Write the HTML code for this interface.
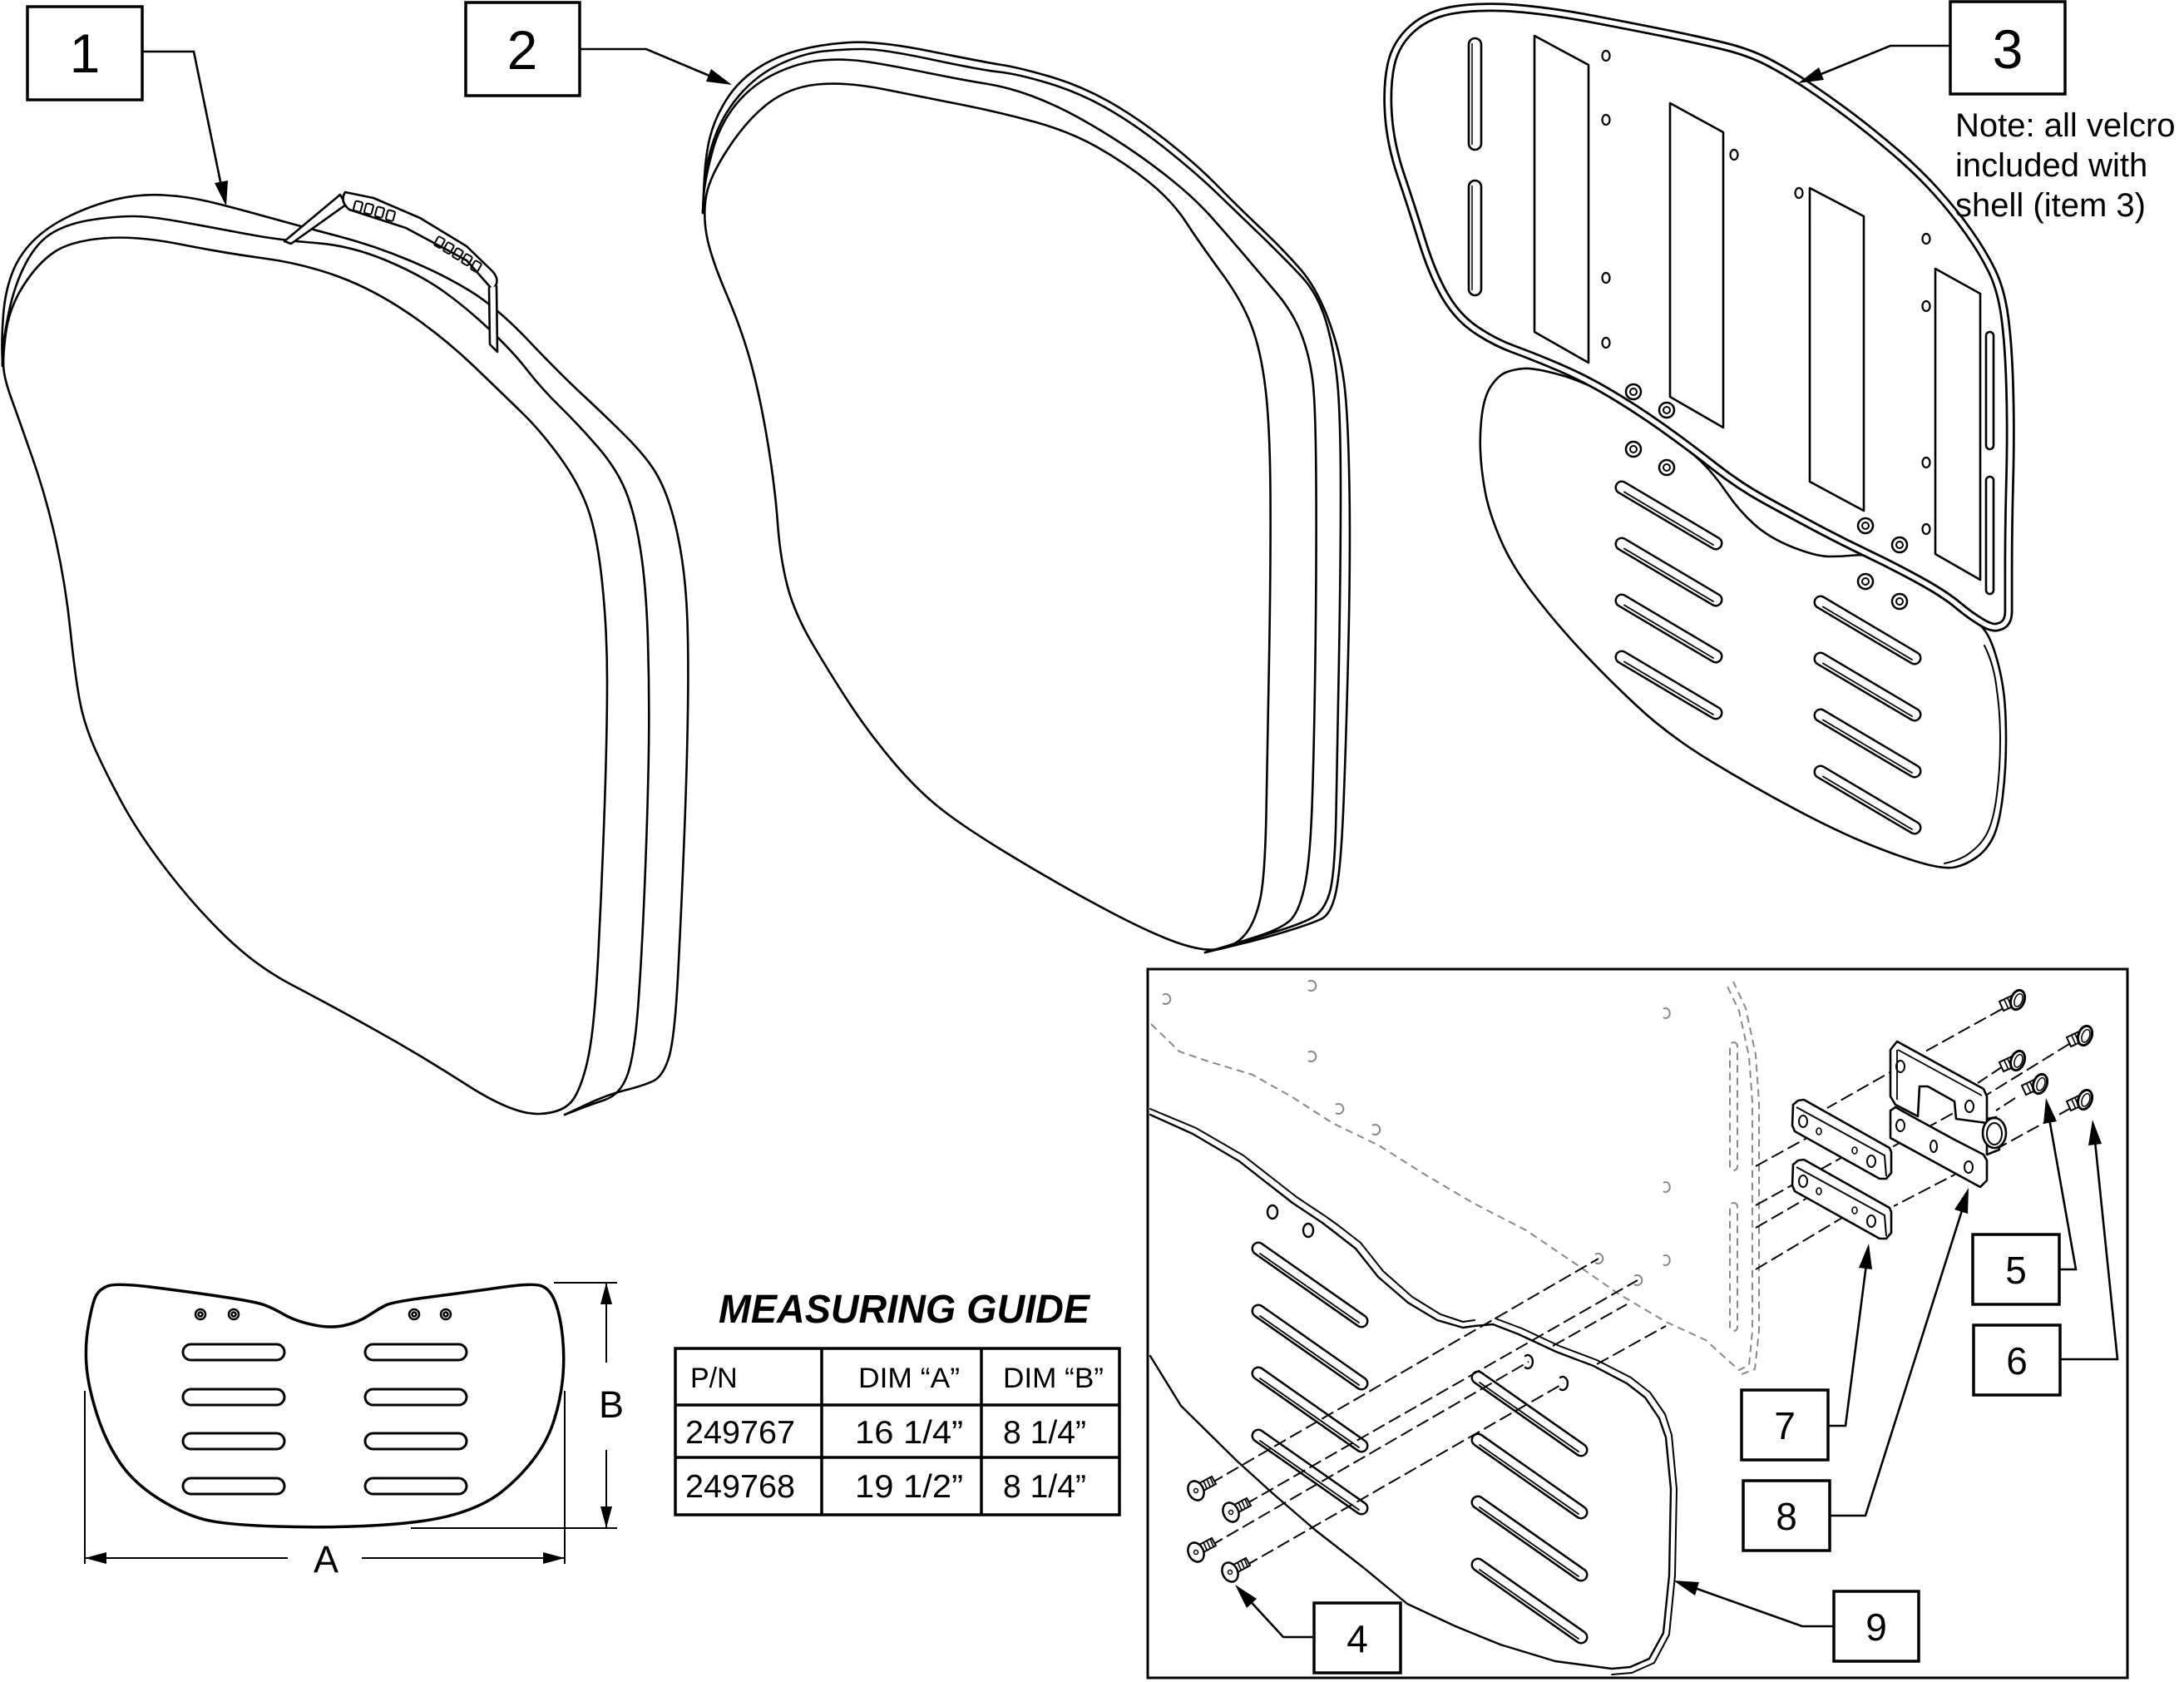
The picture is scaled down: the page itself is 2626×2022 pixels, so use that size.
<!DOCTYPE html>
<html><head><meta charset="utf-8"><title>Seat parts</title>
<style>
html,body{margin:0;padding:0;background:#fff;width:2626px;height:2022px;overflow:hidden}
svg{display:block}
</style></head><body>
<svg xmlns="http://www.w3.org/2000/svg" xmlns:xlink="http://www.w3.org/1999/xlink" width="2626" height="2022" viewBox="0 0 2626 2022" font-family="Liberation Sans, Arial, sans-serif">
<defs>
 <g id="s3">
  <line x1="0" y1="0" x2="113" y2="67" stroke="#000" stroke-width="17" stroke-linecap="round"/>
  <line x1="0" y1="0" x2="113" y2="67" stroke="#fff" stroke-width="12" stroke-linecap="round"/>
  <line x1="3" y1="5.5" x2="110" y2="69" stroke="#000" stroke-width="1.8" stroke-linecap="round"/>
 </g>
 <g id="s9">
  <line x1="0" y1="0" x2="124" y2="87" stroke="#000" stroke-width="17" stroke-linecap="round"/>
  <line x1="0" y1="0" x2="124" y2="87" stroke="#fff" stroke-width="12" stroke-linecap="round"/>
  <line x1="2" y1="6" x2="121" y2="89" stroke="#000" stroke-width="1.8" stroke-linecap="round"/>
 </g>
 <g id="sc4">
  <polygon points="4,-9 19,-17 24,-8 9,0" fill="#fff" stroke="#000" stroke-width="2"/>
  <line x1="9" y1="-12" x2="13" y2="-3" stroke="#000" stroke-width="1.6"/>
  <line x1="13" y1="-14" x2="17" y2="-5" stroke="#000" stroke-width="1.6"/>
  <line x1="17" y1="-16" x2="21" y2="-7" stroke="#000" stroke-width="1.6"/>
  <ellipse cx="0" cy="0" rx="9" ry="12" transform="rotate(-25)" fill="#fff" stroke="#000" stroke-width="2.5"/>
  <circle r="2.5" fill="none" stroke="#000" stroke-width="1.5"/>
 </g>
 <g id="sc5">
  <polygon points="-3,-7 -22,2 -17,13 1,5" fill="#fff" stroke="#000" stroke-width="2"/>
  <line x1="-8" y1="-4" x2="-3" y2="7" stroke="#000" stroke-width="1.6"/>
  <line x1="-12" y1="-2" x2="-7" y2="9" stroke="#000" stroke-width="1.6"/>
  <line x1="-16" y1="0" x2="-11" y2="11" stroke="#000" stroke-width="1.6"/>
  <ellipse cx="0" cy="0" rx="8" ry="12" transform="rotate(20)" fill="#fff" stroke="#000" stroke-width="3"/>
  <ellipse cx="1" cy="0" rx="4.5" ry="8" transform="rotate(20)" fill="none" stroke="#000" stroke-width="1.5"/>
 </g>
 <g id="cs">
  <circle r="9" fill="#fff" stroke="#000" stroke-width="2.5"/>
  <circle r="4" fill="none" stroke="#000" stroke-width="2"/>
 </g>
 <path id="shell" d="M1698.5,34 Q1719,16 1751,11.5 Q1783,7 1823,10 Q1863,13 1915.5,23 Q1968,33 2005,40.5 Q2042,48 2073,55.5 Q2104,63 2128.5,76 Q2153,89 2177.5,105.5 Q2202,122 2226.5,140.5 Q2251,159 2279,183 Q2307,207 2328.5,231 Q2350,255 2367,279 Q2384,303 2395,325.5 Q2406,348 2410.5,381 Q2415,414 2416.5,466 Q2418,518 2416.5,577 Q2415,636 2415,684 L2415,735 Q2415,751 2402.5,753.5 Q2396,756 2382.5,748 Q2369,740 2353.5,727 Q2338,714 2307,697 Q2276,680 2245.5,665.5 Q2215,651 2184,634.5 Q2153,618 2122,601 Q2091,584 2060.5,560 Q2030,536 1999,514 Q1968,492 1937,473.5 Q1906,455 1875.5,442 Q1845,429 1820.5,420 Q1796,411 1774,396 Q1752,381 1737,355 Q1722,329 1709.5,288.5 Q1697,248 1684.5,211 Q1672,174 1669.5,139 Q1667,104 1672.5,78 Q1678,52 1698.5,34 Z"/>
</defs>

<rect width="2626" height="2022" fill="#fff"/>

<!-- ================= ITEM 1 CUSHION ================= -->
<g fill="none" stroke="#000" stroke-width="2.6" stroke-linejoin="round" stroke-linecap="round">
 <path d="M3,440 L2.5,422.5 Q2,405 4,378.5 Q6,352 14,330 Q22,308 39,290.5 Q56,273 84,259.5 Q112,246 140,239.5 Q168,233 196,234.5 Q224,236 249.5,242 Q275,248 320,260.5 Q365,273 407,284 Q449,295 491,312.5 Q533,330 565.5,350 Q598,370 635.5,409.5 Q673,449 701.5,475.5 Q730,502 752,524 Q774,546 785.5,563.5 Q797,581 805.5,607.5 Q814,634 819.5,669 Q825,704 826.5,748 Q828,792 827,858 Q826,924 822.5,1012 Q819,1100 815,1175 Q811,1250 804,1272 Q797,1294 785.5,1299.5 Q774,1305 752,1310.5 Q730,1316 704.5,1328 L679,1340"/>
 <path d="M3,440 L3,427 Q3,414 10,378.5 Q17,343 31,316.5 Q45,290 64.5,279 Q84,268 112,264 Q140,260 160,260 Q180,260 216.5,266.5 Q253,273 295,281 Q337,289 379,292 Q421,295 463,312.5 Q505,330 533,350 Q561,370 589,396.5 Q617,423 634,445 Q651,467 673.5,489 Q696,511 718.5,537 Q741,563 752,589.5 Q763,616 770,660 Q777,704 779,770 Q781,836 780,902 Q779,968 775.5,1056 Q772,1144 767.5,1206 Q763,1268 754.5,1292 Q746,1316 726.5,1322.5 Q707,1329 693,1334.5 L679,1340"/>
 <path d="M4.5,444.5 Q3,431 7,400.5 Q11,370 28,343.5 Q45,317 64.5,303.5 Q84,290 123.5,286.5 Q163,283 216,293.5 Q269,304 317,310.5 Q365,317 407,332.5 Q449,348 491,376.5 Q533,405 569.5,440 Q606,475 628.5,497 Q651,519 673.5,550 Q696,581 707,612 Q718,643 724,700 Q730,757 730,818.5 Q730,880 727,968 Q724,1056 719.5,1144 Q715,1232 708,1267.5 Q701,1303 690,1320.5 Q679,1338 648,1339 Q617,1340 561,1304 Q505,1268 449,1237 Q393,1206 351,1184 Q309,1162 272.5,1127 Q236,1092 202,1048 Q168,1004 148.5,968.5 Q129,933 115,902 Q101,871 95.5,840.5 Q90,810 84.5,757 Q79,704 67.5,651.5 Q56,599 39,550.5 Q22,502 14,480 Q6,458 4.5,444.5 Z"/>
 <!-- strap -->
 <polygon points="342,290 409,234 416,246 350,293" fill="#fff"/>
 <path d="M415,231 L449,238 L505,262 L561,296 L592,326 Q603,338 592,348 L561,313 L488,274 L420,252 Q408,242 415,231 Z" fill="#fff"/>
 <g stroke-width="2">
  <rect x="426" y="242" width="9" height="12" rx="2" transform="rotate(15 430 248)"/>
  <rect x="439" y="245" width="9" height="12" rx="2" transform="rotate(15 443 251)"/>
  <rect x="452" y="249" width="9" height="12" rx="2" transform="rotate(15 456 255)"/>
  <rect x="465" y="253" width="9" height="12" rx="2" transform="rotate(15 469 259)"/>
  <rect x="524" y="285" width="9" height="12" rx="2" transform="rotate(30 528 291)"/>
  <rect x="535" y="292" width="9" height="12" rx="2" transform="rotate(30 539 298)"/>
  <rect x="546" y="299" width="9" height="12" rx="2" transform="rotate(30 550 305)"/>
  <rect x="557" y="306" width="9" height="12" rx="2" transform="rotate(30 561 312)"/>
  <rect x="568" y="314" width="9" height="12" rx="2" transform="rotate(30 572 320)"/>
 </g>
 <path d="M588,346 L589,414 L598,423 L597,344" fill="#fff"/>
</g>

<!-- ================= ITEM 2 CUSHION ================= -->
<g fill="none" stroke="#000" stroke-width="2.6" stroke-linejoin="round" stroke-linecap="round">
 <path d="M845,256 L846.5,222 Q848,188 853.5,165.5 Q859,143 873,120.5 Q887,98 909.5,83 Q932,68 960,60.5 Q988,53 1022,51 Q1056,49 1120.5,62 Q1185,75 1204.5,78 Q1224,81 1260.5,91.5 Q1297,102 1330.5,120.5 Q1364,139 1400.5,167.5 Q1437,196 1462.5,222 Q1488,248 1516,274.5 Q1544,301 1563.5,323.5 Q1583,346 1597,383.5 Q1611,421 1616,459 Q1621,497 1622.5,587 Q1624,677 1620.5,809 Q1617,941 1614,997 Q1611,1053 1605.5,1076 Q1600,1099 1589,1104.5 Q1578,1110 1547,1119.5 Q1516,1129 1482.5,1137 L1449,1145"/>
 <path d="M845,256 L846.5,227.5 Q848,199 858,169 Q868,139 889,114.5 Q910,90 938,77 Q966,64 991,61.5 Q1016,59 1038.5,59 Q1061,59 1120,71.5 Q1179,84 1201.5,86.5 Q1224,89 1260.5,100 Q1297,111 1330.5,130 Q1364,149 1400.5,178 Q1437,207 1462.5,231.5 Q1488,256 1516,283 Q1544,310 1565,332.5 Q1586,355 1596,392 Q1606,429 1609,470.5 Q1612,512 1612,594.5 Q1612,677 1610,790 Q1608,903 1606.5,978 Q1605,1053 1598.5,1074 Q1592,1095 1579,1102.5 Q1566,1110 1535.5,1119.5 Q1505,1129 1477,1137 L1449,1145"/>
 <path d="M845,256 L846,237 Q847,218 856,184 Q865,150 884.5,126 Q904,102 932,88.5 Q960,75 988,72.5 Q1016,70 1044.5,74.5 Q1073,79 1115,87.5 Q1157,96 1185,100.5 Q1213,105 1241,115.5 Q1269,126 1297,141.5 Q1325,157 1353,175.5 Q1381,194 1409,216.5 Q1437,239 1457,261.5 Q1477,284 1496.5,307 Q1516,330 1535.5,353 Q1555,376 1565,402.5 Q1575,429 1578.5,459 Q1582,489 1582.5,583 Q1583,677 1581.5,790 Q1580,903 1577.5,970.5 Q1575,1038 1568,1068.5 Q1561,1099 1549.5,1108 Q1538,1117 1515.5,1124.5 Q1493,1132 1471,1138.5 L1449,1145"/>
 <path d="M849.5,282 Q845,256 849.5,233.5 Q854,211 876.5,177 Q899,143 924,124 Q949,105 982.5,101.5 Q1016,98 1064,107.5 Q1112,117 1157,126 Q1202,135 1244,146.5 Q1286,158 1319.5,177 Q1353,196 1381,218.5 Q1409,241 1426,267 Q1443,293 1468,327 Q1493,361 1504.5,391 Q1516,421 1521.5,466.5 Q1527,512 1527.5,594.5 Q1528,677 1526,790 Q1524,903 1522.5,978 Q1521,1053 1515.5,1079.5 Q1510,1106 1499,1121 Q1488,1136 1468.5,1140.5 Q1449,1145 1415,1133 Q1381,1121 1325,1091 Q1269,1061 1213,1027 Q1157,993 1129,970.5 Q1101,948 1072.5,914 Q1044,880 1022,846.5 Q1000,813 977.5,775 Q955,737 946.5,703.5 Q938,670 935,628.5 Q932,587 923.5,534.5 Q915,482 904,440.5 Q893,399 873.5,353.5 Q854,308 849.5,282 Z"/>
</g>

<!-- ================= ITEM 3 SHELL ================= -->
<g stroke="#000" stroke-width="2.6" stroke-linejoin="round" stroke-linecap="round">
 <path fill="#fff" d="M1793.5,463 Q1802,451 1811,447.5 Q1820,444 1832.5,443 Q1845,442 1875.5,450.5 Q1906,459 1937,477.5 Q1968,496 1999,518 Q2030,540 2045.5,555 Q2061,570 2076,592 Q2091,614 2109.5,630.5 Q2128,647 2156,658 Q2184,669 2199.5,669 Q2215,669 2230,667.5 Q2245,666 2260.5,671.5 Q2276,677 2307,695.5 Q2338,714 2348,723 Q2358,732 2368.5,740 Q2379,748 2386.5,758 Q2394,768 2400.5,790.5 Q2407,813 2409.5,835 Q2412,857 2412,890.5 Q2412,924 2408,957.5 Q2404,991 2396.5,1006.5 Q2389,1022 2376,1031 Q2363,1040 2350.5,1042.5 Q2338,1045 2312.5,1038 Q2287,1031 2248.5,1015.5 Q2210,1000 2159,973 Q2108,946 2057,915 Q2006,884 1968,848.5 Q1930,813 1899,779.5 Q1868,746 1842.5,712.5 Q1817,679 1803.5,647 Q1790,615 1785.5,590 Q1781,565 1780,542.5 Q1779,520 1782,497.5 Q1785,475 1793.5,463 Z"/>
 <path fill="none" stroke-width="2" d="M2386,776 Q2398,800 2401,830 Q2405,857 2405,890 Q2405,924 2401,955 Q2397,988 2388,1004 Q2381,1016 2370,1024 Q2360,1033 2338,1038"/>
</g>
<use xlink:href="#s3" transform="translate(1950,586)"/>
<use xlink:href="#s3" transform="translate(1950,654)"/>
<use xlink:href="#s3" transform="translate(1950,722)"/>
<use xlink:href="#s3" transform="translate(1950,790)"/>
<use xlink:href="#s3" transform="translate(2189,724)"/>
<use xlink:href="#s3" transform="translate(2189,792)"/>
<use xlink:href="#s3" transform="translate(2189,860)"/>
<use xlink:href="#s3" transform="translate(2189,928)"/>
<use xlink:href="#cs" x="1964" y="540"/>
<use xlink:href="#cs" x="2004" y="562"/>
<use xlink:href="#cs" x="2243" y="699"/>
<use xlink:href="#cs" x="2284" y="723"/>

<use xlink:href="#shell" fill="#fff" stroke="#000" stroke-width="11" stroke-linejoin="round"/>
<use xlink:href="#shell" fill="none" stroke="#fff" stroke-width="5.5" stroke-linejoin="round"/>

<g fill="none" stroke="#000" stroke-width="2.6" stroke-linejoin="round">
 <polygon points="1845,43 1910,78 1910,436 1845,399"/>
 <polygon points="2008,124 2072,159 2072,514 2008,477"/>
 <polygon points="2176,226 2241,260 2241,614 2176,579"/>
 <polygon points="2327,323 2381,353 2381,697 2327,666"/>
 <rect x="1766" y="46" width="15" height="134" rx="7.5"/>
 <rect x="1766" y="217" width="15" height="138" rx="7.5"/>
 <line x1="1770" y1="52" x2="1770" y2="174" stroke-width="1.5"/>
 <line x1="1770" y1="223" x2="1770" y2="349" stroke-width="1.5"/>
 <rect x="2388" y="399" width="9" height="141" rx="4.5"/>
 <rect x="2388" y="573" width="9" height="141" rx="4.5"/>
 <g stroke-width="2.2">
  <ellipse cx="1931" cy="67" rx="4.5" ry="6"/>
  <ellipse cx="1931" cy="144" rx="4.5" ry="6"/>
  <ellipse cx="1931" cy="334" rx="4.5" ry="6"/>
  <ellipse cx="1931" cy="412" rx="4.5" ry="6"/>
  <ellipse cx="2085" cy="186" rx="4.5" ry="6"/>
  <ellipse cx="2163" cy="232" rx="4.5" ry="6"/>
  <ellipse cx="2316" cy="287" rx="4.5" ry="6"/>
  <ellipse cx="2316" cy="368" rx="4.5" ry="6"/>
  <ellipse cx="2316" cy="556" rx="4.5" ry="6"/>
  <ellipse cx="2316" cy="636" rx="4.5" ry="6"/>
 </g>
</g>
<use xlink:href="#cs" x="1964" y="471"/>
<use xlink:href="#cs" x="2004" y="493"/>
<use xlink:href="#cs" x="2243" y="632"/>
<use xlink:href="#cs" x="2284" y="655"/>

<!-- ================= LEADERS TOP ================= -->
<g fill="none" stroke="#000" stroke-width="2.6">
 <polyline points="171,62 233,62 268,233"/>
 <polyline points="697,59 777,59 860,94"/>
 <polyline points="2345,55 2273,55 2180,93"/>
</g>
<polygon points="272,248 258,220 274,217" fill="#000"/>
<polygon points="880,102 849,98 855,83" fill="#000"/>
<polygon points="2162,100 2187,81 2193,96" fill="#000"/>

<g fill="#fff" stroke="#000" stroke-width="3.5">
 <rect x="33" y="8" width="138" height="112"/>
 <rect x="560" y="3" width="137" height="112"/>
 <rect x="2345" y="2" width="138" height="111"/>
</g>
<g font-size="66" text-anchor="middle" fill="#000">
 <text x="102" y="87">1</text>
 <text x="628" y="83">2</text>
 <text x="2414" y="82">3</text>
</g>
<g font-size="40" fill="#000">
 <text x="2351" y="164">Note: all velcro</text>
 <text x="2351" y="212">included with</text>
 <text x="2351" y="260">shell (item 3)</text>
</g>

<!-- ================= MEASURING GUIDE ================= -->
<g fill="none" stroke="#000" stroke-linejoin="round">
 <path stroke-width="3.5" d="M129.5,1546 Q140,1542 184,1547.5 Q228,1553 268,1559 Q308,1565 318.5,1569 Q329,1573 342,1580.5 Q355,1588 376,1592.5 Q397,1597 413.5,1593.5 Q430,1590 443,1581.5 Q456,1573 464,1569 Q472,1565 518.5,1559 Q565,1553 603,1547.5 Q641,1542 651.5,1546 Q662,1550 668,1566.5 Q674,1583 676.5,1608 Q679,1633 676.5,1658 Q674,1683 666,1708 Q658,1733 641,1755 Q624,1777 603,1793.5 Q582,1810 548.5,1820 Q515,1830 456,1833.5 Q397,1837 333.5,1835 Q270,1833 245,1826.5 Q220,1820 190.5,1801.5 Q161,1783 144,1758 Q127,1733 116.5,1700 Q106,1667 104,1642 Q102,1617 106.5,1592 Q111,1567 115,1558.5 Q119,1550 129.5,1546 Z"/>
 <g stroke-width="2.5">
  <circle cx="241" cy="1580" r="6"/><circle cx="241" cy="1580" r="2.5"/>
  <circle cx="281" cy="1580" r="6"/><circle cx="281" cy="1580" r="2.5"/>
  <circle cx="498" cy="1580" r="6"/><circle cx="498" cy="1580" r="2.5"/>
  <circle cx="536" cy="1580" r="6"/><circle cx="536" cy="1580" r="2.5"/>
 </g>
 <g stroke-width="3">
  <rect x="220" y="1616" width="122" height="19" rx="9.5"/>
  <rect x="439" y="1616" width="122" height="19" rx="9.5"/>
  <rect x="220" y="1670" width="122" height="19" rx="9.5"/>
  <rect x="439" y="1670" width="122" height="19" rx="9.5"/>
  <rect x="220" y="1723" width="122" height="19" rx="9.5"/>
  <rect x="439" y="1723" width="122" height="19" rx="9.5"/>
  <rect x="220" y="1777" width="122" height="19" rx="9.5"/>
  <rect x="439" y="1777" width="122" height="19" rx="9.5"/>
 </g>
 <g stroke-width="2">
  <line x1="102" y1="1672" x2="102" y2="1880"/>
  <line x1="679" y1="1672" x2="679" y2="1880"/>
  <line x1="102" y1="1873" x2="346" y2="1873"/>
  <line x1="435" y1="1873" x2="679" y2="1873"/>
  <line x1="666" y1="1542" x2="742" y2="1542"/>
  <line x1="494" y1="1837" x2="742" y2="1837"/>
  <line x1="729" y1="1542" x2="729" y2="1638"/>
  <line x1="729" y1="1743" x2="729" y2="1837"/>
 </g>
</g>
<g fill="#000">
 <polygon points="102,1873 128,1866 128,1880"/>
 <polygon points="679,1873 653,1866 653,1880"/>
 <polygon points="729,1542 722,1568 736,1568"/>
 <polygon points="729,1837 722,1811 736,1811"/>
 <text x="392" y="1890" font-size="45" text-anchor="middle">A</text>
 <text x="735" y="1704" font-size="45" text-anchor="middle">B</text>
 <text x="864" y="1590" font-size="48" font-weight="bold" font-style="italic" textLength="446" lengthAdjust="spacingAndGlyphs">MEASURING GUIDE</text>
</g>
<g fill="none" stroke="#000" stroke-width="3.5">
 <rect x="812" y="1621" width="534" height="200"/>
 <line x1="988" y1="1621" x2="988" y2="1821"/>
 <line x1="1180" y1="1621" x2="1180" y2="1821"/>
 <line x1="812" y1="1689" x2="1346" y2="1689"/>
 <line x1="812" y1="1752" x2="1346" y2="1752"/>
</g>
<g fill="#000">
 <text x="830" y="1668" font-size="34">P/N</text>
 <text x="1032" y="1668" font-size="34" textLength="122" lengthAdjust="spacingAndGlyphs">DIM “A”</text>
 <text x="1206" y="1668" font-size="34" textLength="121" lengthAdjust="spacingAndGlyphs">DIM “B”</text>
 <text x="824" y="1735" font-size="39" textLength="132" lengthAdjust="spacingAndGlyphs">249767</text>
 <text x="1028" y="1735" font-size="39" textLength="130" lengthAdjust="spacingAndGlyphs">16 1/4”</text>
 <text x="1206" y="1735" font-size="39" textLength="100" lengthAdjust="spacingAndGlyphs">8 1/4”</text>
 <text x="824" y="1800" font-size="39" textLength="132" lengthAdjust="spacingAndGlyphs">249768</text>
 <text x="1028" y="1800" font-size="39" textLength="130" lengthAdjust="spacingAndGlyphs">19 1/2”</text>
 <text x="1206" y="1800" font-size="39" textLength="100" lengthAdjust="spacingAndGlyphs">8 1/4”</text>
</g>

<!-- ================= INSET ================= -->
<rect x="1380" y="1165" width="1178" height="852" fill="#fff" stroke="#000" stroke-width="3"/>

<!-- ghost shell -->
<g fill="none" stroke="#888" stroke-width="2" stroke-dasharray="9 6" stroke-linejoin="round">
 <polyline points="1384,1231 1418,1264 1450,1275 1506,1292 1554,1319 1602,1350 1658,1377 1715,1413 1771,1446 1835,1479 1891,1517 1947,1556 2003,1589 2051,1611 2075,1633 2091,1647 2103,1641 2107,1600 2107,1325 2103,1270 2091,1215 2075,1182"/>
 <polyline points="2094,1652 2110,1646 2115,1600 2115,1325 2111,1268 2099,1212 2084,1180"/>
 <rect x="2080" y="1253" width="9" height="154" rx="4.5"/>
 <rect x="2080" y="1446" width="9" height="154" rx="4.5"/>
</g>
<g fill="none" stroke="#888" stroke-width="2">
 <path d="M1398,1196 a6,6 0 1 1 0,10"/>
 <path d="M1573,1180 a6,6 0 1 1 0,10"/>
 <path d="M1573,1265 a6,6 0 1 1 0,10"/>
 <path d="M1606,1328 a6,6 0 1 1 0,10"/>
 <path d="M1650,1353 a6,6 0 1 1 0,10"/>
 <path d="M2000,1213 a5,6 0 1 1 0,10"/>
 <path d="M2000,1422 a5,6 0 1 1 0,10"/>
 <path d="M2000,1510 a5,6 0 1 1 0,10"/>
 <path d="M1918,1508 a6,6 0 1 1 0,10"/>
 <path d="M1965,1534 a6,6 0 1 1 0,10"/>
</g>

<!-- seat plate 9 -->
<g fill="none" stroke="#000" stroke-width="2.4" stroke-linejoin="round" stroke-linecap="round">
 <polyline points="1383,1340 1434,1363 1490,1396 1554,1446 1590,1470 1603,1480 1630,1501 1657,1535 1693,1566 1728,1587 1759,1596 1773,1594 1795,1592 1826,1604 1871,1625 1916,1642 1956,1663 1978,1680 1995,1705 2003,1728 2009,1790 2007,1894 2000,1963 1983,1994 1960,2004 1938,2006 1870,1997 1804,1977 1750,1955 1692,1928 1640,1885 1581,1839 1530,1795 1487,1756 1420,1690 1383,1630"/>
 <polyline stroke-width="2" points="1383,1333 1438,1356 1495,1389 1559,1439 1595,1463 1609,1473 1636,1494 1663,1528 1698,1559 1732,1580 1759,1589 1773,1587"/>
 <polyline stroke-width="2" points="1798,1585 1830,1597 1875,1618 1920,1635 1961,1656 1984,1674 2002,1700 2010,1725 2016,1790 2014,1894 2007,1965 1989,1999 1962,2011 1938,2013"/>
 <ellipse cx="1530" cy="1457" rx="6" ry="8"/>
 <ellipse cx="1573" cy="1479" rx="6" ry="8"/>
 <path d="M1834,1630 a6,8 0 1 1 0,14"/>
 <path d="M1876,1656 a6,8 0 1 1 0,14"/>
</g>
<use xlink:href="#s9" transform="translate(1513,1501)"/>
<use xlink:href="#s9" transform="translate(1513,1576)"/>
<use xlink:href="#s9" transform="translate(1513,1651)"/>
<use xlink:href="#s9" transform="translate(1513,1726)"/>
<use xlink:href="#s9" transform="translate(1777,1656)"/>
<use xlink:href="#s9" transform="translate(1777,1731)"/>
<use xlink:href="#s9" transform="translate(1777,1806)"/>
<use xlink:href="#s9" transform="translate(1777,1881)"/>

<!-- dashed assembly lines -->
<g fill="none" stroke="#000" stroke-width="2" stroke-dasharray="16 6">
 <line x1="1456" y1="1783" x2="1922" y2="1513"/>
 <line x1="1498" y1="1808" x2="1969" y2="1539"/>
 <line x1="1456" y1="1858" x2="1838" y2="1637"/>
 <line x1="1498" y1="1882" x2="1880" y2="1663"/>
 <line x1="1867" y1="1618" x2="1956" y2="1568"/>
 <line x1="1920" y1="1640" x2="2003" y2="1594"/>
 <line x1="2407" y1="1213" x2="2313" y2="1265"/>
 <line x1="2408" y1="1282" x2="2378" y2="1302"/>
 <line x1="2488" y1="1255" x2="2389" y2="1316"/>
 <line x1="2423" y1="1320" x2="2400" y2="1335"/>
 <line x1="2490" y1="1332" x2="2390" y2="1387"/>
 <line x1="2285" y1="1282" x2="2197" y2="1332"/>
 <line x1="2367" y1="1328" x2="2273" y2="1380"/>
 <line x1="2360" y1="1407" x2="2277" y2="1450"/>
 <line x1="2111" y1="1402" x2="2187" y2="1360"/>
 <line x1="2111" y1="1449" x2="2230" y2="1383"/>
 <line x1="2111" y1="1476" x2="2187" y2="1432"/>
 <line x1="2111" y1="1526" x2="2230" y2="1455"/>
</g>

<!-- screws -->
<use xlink:href="#sc4" x="1438" y="1792"/>
<use xlink:href="#sc4" x="1480" y="1818"/>
<use xlink:href="#sc4" x="1438" y="1866"/>
<use xlink:href="#sc4" x="1479" y="1890"/>
<use xlink:href="#sc5" x="2426" y="1202"/>
<use xlink:href="#sc5" x="2426" y="1275"/>
<use xlink:href="#sc5" x="2507" y="1245"/>
<use xlink:href="#sc5" x="2507" y="1322"/>
<use xlink:href="#sc5" x="2453" y="1303"/>

<!-- bars (item 7) -->
<g id="bar" fill="#fff" stroke="#000" stroke-width="2.6" stroke-linejoin="round">
 <polygon points="2156,1328 2162,1323 2169,1322 2272,1380 2274,1385 2274,1410 2268,1417 2260,1417 2158,1360 2155,1353"/>
 <polyline fill="none" stroke-width="2" points="2160,1331 2266,1389 2268,1414"/>
 <ellipse cx="2168" cy="1348" rx="5" ry="7" fill="none" stroke-width="2"/>
 <ellipse cx="2250" cy="1396" rx="5" ry="7" fill="none" stroke-width="2"/>
 <ellipse cx="2187" cy="1360" rx="3" ry="4" fill="none" stroke-width="1.6"/>
 <ellipse cx="2230" cy="1383" rx="3" ry="4" fill="none" stroke-width="1.6"/>
</g>
<use xlink:href="#bar" transform="translate(0,72)"/>

<!-- bracket (item 8) -->
<g fill="#fff" stroke="#000" stroke-width="2.6" stroke-linejoin="round">
 <polygon points="2273,1335 2279,1331 2306,1346 2350,1370 2385,1388 2389,1395 2389,1419 2381,1427 2273,1368"/>
 <polygon points="2273,1262 2281,1252 2385,1309 2389,1318 2389,1350 2352,1345 2350,1324 2318,1306 2308,1306 2306,1342 2279,1328 2273,1318"/>
 <line x1="2281" y1="1262" x2="2281" y2="1322" stroke-width="1.8"/>
 <line x1="2282" y1="1262" x2="2383" y2="1317" stroke-width="1.8"/>
 <path d="M2389,1345 L2400,1343 L2404,1382 L2389,1388 Z"/>
 <ellipse cx="2398" cy="1362" rx="14" ry="18"/>
 <ellipse cx="2398" cy="1363" rx="9" ry="13" stroke-width="2"/>
 <g fill="none" stroke-width="2">
  <ellipse cx="2285" cy="1282" rx="5" ry="7"/>
  <ellipse cx="2368" cy="1330" rx="5" ry="7"/>
  <ellipse cx="2285" cy="1353" rx="5" ry="7"/>
  <ellipse cx="2325" cy="1378" rx="4" ry="7"/>
  <ellipse cx="2367" cy="1403" rx="5" ry="7"/>
 </g>
</g>

<!-- inset leaders -->
<g fill="none" stroke="#000" stroke-width="2.6">
 <polyline points="1580,1968 1543,1968 1497,1918"/>
 <polyline points="2205,1955 2167,1955 2035,1908"/>
 <polyline points="2476,1526 2496,1526 2464,1345"/>
 <polyline points="2477,1634 2546,1634 2519,1372"/>
 <polyline points="2198,1714 2219,1714 2244,1520"/>
 <polyline points="2199,1822 2243,1822 2360,1452"/>
</g>
<g fill="#000">
 <polygon points="1485,1905 1511,1922 1499,1933"/>
 <polygon points="2012,1900 2043,1902 2038,1918"/>
 <polygon points="2460,1320 2473,1348 2457,1351"/>
 <polygon points="2516,1346 2527,1375 2511,1377"/>
 <polygon points="2247,1495 2251,1526 2235,1524"/>
 <polygon points="2367,1428 2366,1459 2350,1454"/>
</g>
<g fill="#fff" stroke="#000" stroke-width="3.5">
 <rect x="2372" y="1484" width="104" height="84"/>
 <rect x="2373" y="1593" width="104" height="84"/>
 <rect x="2094" y="1671" width="104" height="84"/>
 <rect x="2096" y="1780" width="104" height="84"/>
 <rect x="1580" y="1927" width="104" height="84"/>
 <rect x="2205" y="1913" width="102" height="84"/>
</g>
<g font-size="46" text-anchor="middle" fill="#000">
 <text x="2424" y="1543">5</text>
 <text x="2425" y="1652">6</text>
 <text x="2146" y="1730">7</text>
 <text x="2148" y="1839">8</text>
 <text x="1632" y="1986">4</text>
 <text x="2256" y="1972">9</text>
</g>
</svg>
</body></html>
